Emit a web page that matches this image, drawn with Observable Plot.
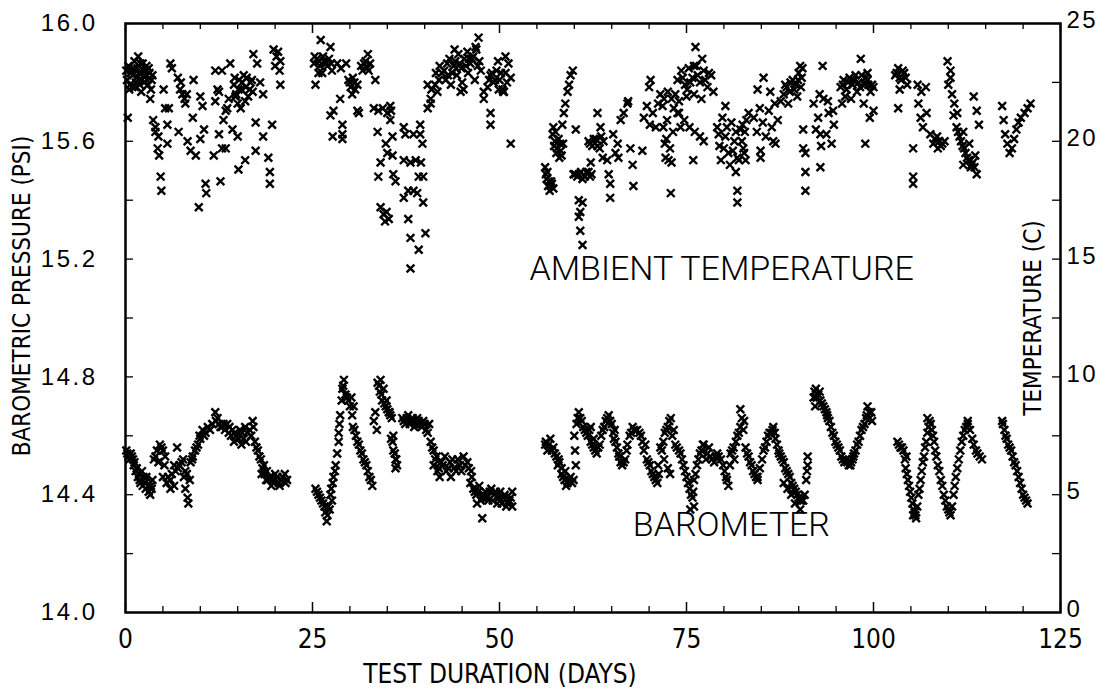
<!DOCTYPE html>
<html><head><meta charset="utf-8">
<script src="https://cdn.jsdelivr.net/npm/d3@7"></script>
<script src="https://cdn.jsdelivr.net/npm/@observablehq/plot@0.6"></script>
<style>body{margin:0;background:#fff} #chart svg{display:block}</style>
</head><body><div id="chart"></div>
<script>
// Ambient temperature readings: [test day, temperature (C)]
const temperature = [
[0.2,22.6],[0.4,23.2],[0.6,22.4],[0.8,23.0],[1.0,22.8],[1.2,23.4],[1.4,22.5],[1.6,23.1],[1.8,22.9],[2.0,23.3],[2.2,22.6],[2.4,23.0],[2.6,22.8],[2.8,23.2],[3.0,22.4],[3.2,22.9],[0.5,22.2],[1.3,22.3],[2.1,22.1],[1.7,23.6],[3.4,22.2],[3.6,22.8],
[0.1,23.0],[0.7,22.9],[0.9,22.3],[1.1,23.1],[1.5,22.7],[1.9,22.4],[2.3,23.3],[2.5,22.5],[2.7,23.0],[2.9,22.6],[3.1,23.1],[3.5,22.6],
[0.3,21.0],[3.3,21.8],[3.7,20.9],[4.0,20.4],[4.3,19.7],[4.5,19.4],[4.7,18.5],[4.8,17.9],[4.0,20.6],[4.4,20.2],
[5.1,22.2],[5.3,21.4],[5.8,21.4],[5.6,20.7],[5.6,19.9],[6.0,23.3],[6.2,23.1],
[7.0,22.7],[7.3,22.2],[7.6,22.0],[7.9,21.8],[8.2,22.0],[7.4,22.5],[8.0,21.6],[7.1,20.4],
[8.3,20.0],[8.7,19.6],[9.4,19.4],[9.8,17.2],[9.1,22.6],[9.0,21.0],[10.0,21.9],[10.3,21.5],
[10.0,20.1],[10.5,20.5],[10.7,18.2],[10.8,17.8],[11.8,19.4],[12.0,21.7],[12.3,22.2],[12.5,22.1],
[12.0,23.0],[12.9,23.0],[12.5,20.3],[12.9,19.7],[13.4,19.7],[13.1,20.9],[13.4,21.3],[13.6,21.4],
[12.7,18.3],[13.8,21.8],[14.0,23.3],[14.3,20.5],[15.0,20.2],[15.1,18.8],[16.0,19.2],
[14.5,22.4],[14.8,22.0],[15.2,22.6],[15.5,22.2],[15.8,22.8],[16.1,22.3],[16.4,21.9],[16.7,22.5],[17.0,22.1],[15.0,21.6],[16.0,21.7],
[14.6,22.7],[15.1,22.2],[15.6,22.5],[16.2,22.7],[16.6,22.2],[16.9,22.6],[14.7,21.9],
[15.4,21.4],[17.1,23.7],[17.4,20.8],[17.4,19.6],[17.6,23.3],[18.0,22.5],[18.4,22.0],[18.4,20.2],
[19.1,19.3],[19.3,18.7],[19.3,18.2],[19.6,20.7],[19.8,23.9],[20.2,23.6],[20.7,23.4],[20.0,23.2],[20.4,23.8],[20.6,23.0],[20.7,22.4],
[25.4,22.4],[26.1,24.3],[25.2,23.3],[25.6,23.5],[26.0,23.2],[26.4,23.6],[26.8,23.3],[27.2,23.5],[27.6,23.0],[25.8,22.9],[27.4,24.0],
[25.3,23.6],[25.9,23.4],[26.3,22.9],[26.6,23.4],[27.0,23.2],[27.5,23.3],
[27.4,21.1],[27.8,21.3],[27.7,20.2],[29.0,20.7],[29.0,20.3],[29.0,20.1],[28.3,23.3],[28.8,23.1],[29.5,23.3],[28.7,21.8],
[29.8,22.6],[30.1,22.3],[30.4,22.7],[30.7,22.2],[31.0,22.4],[30.3,22.0],[31.0,21.3],[31.2,21.2],[30.0,22.5],[30.6,22.5],
[31.5,23.2],[31.9,23.3],[32.3,23.1],[32.7,23.3],[32.4,23.7],[33.4,22.6],[31.7,23.0],[32.1,23.4],[32.5,23.0],
[33.2,21.4],[33.8,21.3],[34.4,21.4],[35.0,21.2],[35.5,21.3],
[33.7,20.4],[34.8,19.9],[34.1,19.1],[33.8,18.5],[35.0,19.5],[35.7,19.4],[35.8,18.6],[36.1,18.3],[35.7,20.2],[35.4,20.9],[35.4,21.5],
[34.1,17.2],[34.5,16.9],[34.9,17.0],[35.2,16.7],[34.7,16.6],
[37.2,20.6],[37.4,20.3],[38.5,20.3],[39.4,20.7],[39.4,20.3],[39.7,19.9],[37.2,19.2],[38.1,19.1],[38.8,19.2],[39.5,19.1],
[37.2,17.6],[37.8,17.9],[38.5,17.9],[39.0,17.8],[37.8,16.7],[38.1,15.9],[38.1,14.6],[39.2,15.4],[39.8,17.4],[40.1,16.1],[39.2,18.5],[39.8,18.5],
[40.4,21.4],[40.8,21.8],[40.8,21.6],[40.4,22.4],[40.9,22.2],[41.4,22.4],[41.7,22.1],[41.5,22.9],[42.0,23.2],[42.6,23.0],[43.0,23.3],
[42.8,22.6],[43.3,23.5],[43.7,22.9],[44.1,23.4],[44.5,23.7],[44.9,23.1],[45.3,23.5],[45.7,23.8],[46.1,23.3],[46.5,23.6],[46.9,23.9],[47.3,23.4],
[43.5,22.4],[44.3,22.8],[45.0,22.5],[45.8,22.9],[46.7,22.6],[47.5,23.0],[44.0,23.9],[47.2,24.4],[46.8,24.0],[44.8,22.1],[45.2,22.2],
[41.9,22.6],[42.3,22.9],[43.1,22.8],[43.9,23.2],[44.7,23.3],[45.5,23.2],[46.3,23.5],[47.1,23.2],[45.9,23.5],[44.2,23.1],
[47.9,22.1],[47.9,21.8],[48.8,21.2],[48.8,20.7],
[48.4,22.3],[48.8,22.8],[49.2,22.5],[49.6,23.0],[50.0,22.6],[50.4,22.2],[50.8,22.9],[51.2,23.3],[51.5,22.7],[49.8,23.4],[50.6,22.1],[50.8,23.6],[50.5,22.1],[51.5,19.9],
[48.6,22.6],[49.0,22.9],[49.4,22.6],[50.2,22.9],[51.0,22.5],[49.9,22.2],
[56.1,18.9],[56.3,18.4],[56.5,18.1],[56.7,17.9],[56.9,18.3],[57.2,18.0],[56.4,18.7],[56.2,18.6],[56.6,18.3],[57.0,18.2],
[57.1,20.3],[57.3,19.8],[57.6,19.5],[57.9,20.1],[58.2,19.6],[58.5,19.9],[57.5,20.4],[58.0,19.3],[57.4,20.0],[57.7,19.7],[58.1,19.9],[58.3,19.4],
[57.2,20.6],[58.4,20.7],[58.6,21.2],[58.8,21.6],[59.1,22.1],[59.3,22.4],[59.5,22.8],[59.8,23.0],[60.2,20.5],
[59.9,18.6],[60.4,18.5],[60.9,18.7],[61.4,18.5],[61.9,18.7],[62.3,18.6],[60.1,18.6],[60.6,18.6],[61.1,18.4],[61.6,18.7],[62.1,18.5],
[60.6,17.5],[61.1,17.4],[60.8,17.0],[60.6,16.8],[60.8,16.2],[61.1,15.6],[62.2,19.1],
[61.9,20.0],[62.4,19.8],[62.9,20.1],[63.4,19.7],[63.9,20.0],[63.1,21.2],[63.5,20.6],[62.1,19.9],[62.6,20.1],[63.1,19.8],[63.6,20.2],
[63.8,19.3],[64.4,19.2],[64.6,18.6],[64.8,18.2],[64.8,17.6],
[65.2,20.3],[65.8,19.9],[65.9,19.3],[65.5,19.5],[66.2,20.9],[66.6,21.2],[67.1,21.6],[67.2,21.7],
[67.5,19.7],[67.8,19.0],[67.9,18.1],[69.1,19.6],
[69.3,21.0],[69.7,21.5],[70.1,20.7],[70.5,21.2],[70.9,20.6],[71.2,21.6],[70.2,22.6],[70.0,22.3],
[71.5,22.0],[72.0,21.8],[72.5,22.1],[73.0,21.8],[73.5,22.0],[74.0,21.7],
[71.9,20.6],[72.3,20.1],[72.8,19.7],[72.2,19.3],[72.6,19.2],[72.9,17.8],
[71.8,21.5],[72.4,20.9],[73.2,20.4],[73.8,21.2],[74.2,20.6],[72.1,19.9],[73.0,19.1],
[73.8,22.6],[74.3,23.0],[74.8,22.4],[75.3,23.1],[75.8,22.7],[76.3,23.2],[76.8,22.5],[77.3,23.0],[77.8,22.3],[78.3,22.8],[78.6,22.1],[75.0,21.9],[76.0,22.0],[77.0,21.8],
[74.5,22.7],[75.5,22.5],[76.5,22.8],[77.5,22.6],[78.0,22.9],[76.0,23.2],[75.1,22.2],
[76.2,24.0],[77.1,23.5],
[73.3,21.4],[74.0,21.2],[74.7,20.9],[75.4,20.6],[76.1,20.4],[76.8,20.2],[77.3,20.0],[75.9,19.2],
[79.1,20.6],[79.4,19.8],[79.8,21.0],[80.2,20.2],[80.6,19.5],[81.0,20.8],[81.4,20.0],[81.8,19.3],[82.2,20.5],[82.6,19.7],[83.0,20.9],[79.6,19.2],[80.8,19.0],[82.0,19.2],
[79.3,20.3],[80.0,19.7],[80.4,20.6],[81.2,19.6],[81.6,20.4],[82.4,20.0],[82.8,20.4],
[80.2,21.5],[81.6,18.7],[81.8,17.9],[81.8,17.4],[82.5,20.7],[83.3,21.2],[82.7,19.5],[82.9,19.2],
[84.0,21.0],[84.4,20.4],[84.8,21.4],[85.2,20.8],[85.6,20.2],[86.0,21.3],[86.4,20.6],[86.8,21.6],[87.2,20.9],
[85.3,22.7],[84.5,22.2],[86.2,22.1],[84.9,19.6],[84.9,19.3],[86.6,20.0],[86.9,19.9],
[87.6,21.7],[88.0,22.0],[88.4,22.3],[88.8,22.1],[89.2,22.6],[89.6,22.4],[90.0,22.9],[90.4,22.7],[88.6,21.6],[89.8,21.9],
[88.2,22.4],[88.9,22.5],[89.4,22.2],[89.9,22.6],[90.3,22.3],
[90.2,23.2],[90.5,23.1],[90.6,20.5],[90.6,19.7],[90.9,19.5],[90.9,18.7],[90.9,17.9],
[92.0,21.6],[92.3,20.5],[92.6,21.0],[93.0,19.8],[93.3,21.8],[93.7,20.3],[94.0,21.2],[94.4,19.9],[94.7,20.7],[92.8,22.0],
[92.9,20.3],[92.9,18.9],[93.2,23.2],[93.9,21.7],[94.6,21.3],
[95.6,22.3],[96.0,22.6],[96.4,22.2],[96.8,22.7],[97.2,22.4],[97.6,22.8],[98.0,22.5],[98.4,22.8],[98.8,22.4],[99.2,22.6],[99.6,22.1],[100.0,22.3],[96.2,21.9],[97.0,21.8],[95.8,21.6],
[95.9,22.4],[96.6,22.5],[97.4,22.6],[98.2,22.3],[99.0,22.7],[99.8,22.4],[97.8,22.1],
[98.3,23.5],[99.2,22.9],[99.3,22.4],[98.7,21.6],[99.5,21.0],[100.0,21.3],[98.9,19.9],
[102.9,22.8],[103.3,23.1],[103.7,22.6],[104.1,22.9],[104.5,22.4],[103.5,22.2],[103.3,21.4],
[103.1,22.9],[103.5,22.7],[103.9,23.0],[104.3,22.7],
[105.3,19.7],[105.3,18.5],[105.3,18.2],
[105.9,22.4],[106.4,22.1],[107.0,22.3],[106.0,21.6],[106.3,21.0],[106.6,20.6],[107.1,21.2],
[107.6,20.3],[108.0,19.9],[108.5,20.2],[109.0,19.8],[109.5,20.0],[108.6,19.7],[108.2,20.1],[108.8,20.0],[109.2,19.9],
[109.9,23.4],[110.3,23.0],[110.3,22.7],[110.0,22.4],[110.5,22.0],[110.8,21.6],[111.2,21.2],
[110.7,21.1],[111.1,20.6],[111.5,20.2],[111.9,19.8],[112.3,19.5],[112.7,19.2],[113.1,19.0],[113.5,18.9],[112.0,20.4],[112.8,19.9],[113.6,19.4],
[111.3,20.4],[111.7,20.0],[112.1,19.7],[112.5,19.3],[112.9,19.2],[113.3,19.1],
[113.4,21.9],[113.8,21.3],[114.1,20.7],[112.0,19.0],[113.0,18.9],[113.8,18.6],
[117.2,21.5],[117.4,20.9],[117.6,20.3],[117.9,19.9],[118.2,19.5],[118.5,19.7],[118.8,20.1],[119.1,20.5],[119.4,20.8],[119.7,21.0],[120.2,21.2],[120.6,21.4],[121.0,21.6]
];

// Barometric pressure readings: [test day, pressure (PSI)]
const barometer = [
[0.1,14.55],[0.4,14.53],[0.7,14.54],[1.0,14.52],[1.2,14.51],[1.5,14.49],[1.8,14.47],[2.2,14.48],[2.4,14.46],
[0.25,14.54],[0.55,14.52],[0.85,14.53],[1.1,14.50],[1.35,14.48],[1.65,14.46],[2.0,14.44],[2.3,14.43],[2.7,14.42],[3.1,14.41],[3.4,14.43],[3.6,14.45],
[1.9,14.45],[2.6,14.44],[3.0,14.43],[3.5,14.42],[2.8,14.46],[3.3,14.40],
[3.8,14.52],[4.2,14.55],[4.6,14.57],[5.0,14.55],[4.4,14.51],[5.3,14.53],[4.0,14.53],[4.8,14.56],[5.2,14.50],[5.7,14.46],
[5.0,14.46],[5.5,14.44],[6.0,14.45],[6.5,14.43],[6.0,14.42],[6.9,14.56],[6.2,14.47],[6.7,14.48],[7.2,14.50],[7.7,14.52],[8.2,14.47],
[6.5,14.50],[7.0,14.49],[7.5,14.51],[8.0,14.48],[7.8,14.46],[8.6,14.45],[8.0,14.42],[8.3,14.39],[8.4,14.37],
[8.7,14.51],[9.0,14.53],[9.3,14.55],[9.7,14.57],[10.0,14.59],[9.9,14.60],[10.3,14.62],[10.7,14.61],[11.0,14.63],[8.9,14.52],[9.5,14.56],[10.5,14.60],[11.3,14.62],[11.6,14.64],
[12.0,14.68],[12.1,14.65],[12.5,14.64],[12.9,14.63],[13.3,14.62],[13.6,14.64],[12.3,14.66],[12.7,14.63],[13.1,14.64],
[13.8,14.61],[14.3,14.62],[14.8,14.60],[15.3,14.62],[15.8,14.59],[16.3,14.61],[16.8,14.60],[17.1,14.63],[14.5,14.58],[15.5,14.57],[16.0,14.63],[17.0,14.65],
[13.9,14.63],[14.1,14.60],[14.6,14.61],[15.1,14.59],[15.6,14.61],[16.1,14.58],[16.6,14.62],
[17.3,14.58],[17.7,14.55],[18.1,14.52],[18.5,14.50],[18.9,14.48],[17.5,14.56],[17.9,14.53],[18.3,14.49],[18.6,14.47],[19.0,14.45],
[18.2,14.47],[18.8,14.45],[19.3,14.46],[19.8,14.44],[20.3,14.46],[20.8,14.45],[21.3,14.47],[21.6,14.45],[19.5,14.43],[20.6,14.43],
[19.6,14.45],[20.0,14.47],[20.5,14.44],[21.0,14.46],[21.4,14.44],
[25.4,14.42],[25.8,14.40],[26.2,14.38],[26.6,14.36],[27.0,14.33],[27.3,14.35],[27.6,14.38],[26.9,14.31],
[25.6,14.41],[26.0,14.39],[26.4,14.37],[26.7,14.34],[27.1,14.36],[27.4,14.40],[27.7,14.44],[28.0,14.48],
[27.5,14.42],[27.8,14.46],[28.1,14.50],[28.5,14.58],[28.5,14.61],[28.7,14.67],[29.2,14.79],[28.3,14.54],[28.6,14.64],[28.9,14.72],[29.1,14.77],
[29.0,14.76],[29.4,14.74],[29.8,14.72],[30.2,14.73],[30.5,14.70],[29.6,14.73],[30.0,14.70],[30.3,14.67],
[30.4,14.63],[30.8,14.60],[31.2,14.57],[31.6,14.54],[32.0,14.51],[32.4,14.48],[32.8,14.45],[33.0,14.43],
[30.6,14.62],[31.0,14.58],[31.4,14.55],[31.8,14.52],[32.2,14.50],[32.6,14.46],
[33.2,14.65],[33.6,14.62],[33.7,14.78],[34.0,14.75],[34.3,14.72],[34.6,14.71],[35.0,14.69],[35.4,14.67],[33.4,14.68],[33.9,14.77],[34.2,14.74],[34.8,14.70],[35.2,14.68],
[35.7,14.58],[36.0,14.54],[36.3,14.50],[34.1,14.79],[34.5,14.76],[34.9,14.72],[35.3,14.68],[35.6,14.66],
[35.5,14.59],[35.8,14.55],[36.1,14.52],[36.1,14.49],[35.8,14.60],[36.2,14.52],
[37.0,14.66],[37.4,14.64],[37.8,14.67],[38.2,14.65],[38.6,14.63],[39.0,14.66],[39.4,14.64],[39.8,14.65],[40.2,14.62],[40.6,14.64],
[37.2,14.65],[37.6,14.66],[38.0,14.64],[38.4,14.66],[38.8,14.64],[39.2,14.65],[39.6,14.63],[40.0,14.64],
[40.4,14.61],[40.8,14.58],[41.2,14.55],[41.6,14.53],[41.0,14.56],[41.4,14.52],
[41.2,14.50],[41.7,14.48],[42.2,14.51],[42.7,14.53],[43.2,14.49],[43.7,14.52],[44.2,14.48],[44.7,14.50],[45.2,14.53],[45.7,14.51],[46.2,14.48],[42.0,14.46],[43.5,14.46],
[41.9,14.49],[42.4,14.50],[42.9,14.48],[43.4,14.51],[43.9,14.49],[44.4,14.52],[44.9,14.48],[45.4,14.50],[45.9,14.49],[46.3,14.46],
[46.1,14.44],[46.5,14.42],[46.9,14.40],[47.3,14.43],[47.7,14.39],[48.1,14.41],[48.5,14.38],[48.9,14.42],[49.3,14.40],[49.7,14.37],[50.1,14.41],[50.5,14.39],[50.9,14.36],[51.3,14.38],[51.7,14.36],[47.0,14.37],
[46.7,14.41],[47.1,14.41],[47.5,14.38],[47.9,14.40],[48.3,14.39],[48.7,14.41],[49.1,14.38],[49.5,14.41],[49.9,14.39],[50.3,14.37],[50.7,14.40],[51.1,14.37],[51.5,14.39],
[47.7,14.32],[51.7,14.41],
[56.1,14.57],[56.4,14.55],[56.8,14.59],[57.2,14.56],[57.6,14.53],[58.0,14.51],[57.8,14.50],[58.3,14.49],[58.8,14.48],
[56.2,14.58],[56.6,14.57],[57.0,14.55],[57.4,14.54],[57.9,14.52],[58.5,14.46],[59.3,14.45],[59.7,14.44],
[58.3,14.47],[58.7,14.45],[59.1,14.44],[59.5,14.46],[59.9,14.45],[58.9,14.43],[60.2,14.50],
[60.0,14.60],[60.3,14.64],[60.6,14.68],[61.0,14.65],[61.4,14.62],[61.8,14.60],[62.2,14.63],[62.6,14.59],
[60.1,14.55],[60.45,14.66],[60.8,14.66],[61.2,14.63],[61.6,14.61],[62.0,14.62],[62.4,14.57],[62.8,14.55],
[62.2,14.58],[62.6,14.56],[63.0,14.54],[63.4,14.57],[63.2,14.56],[63.6,14.60],[64.0,14.63],[64.4,14.66],[64.8,14.65],
[63.8,14.62],[64.2,14.65],[64.6,14.67],[65.0,14.64],[65.4,14.62],[65.2,14.61],[65.5,14.58],[65.9,14.54],[66.2,14.51],[66.6,14.51],
[65.3,14.59],[65.7,14.56],[66.0,14.53],[66.4,14.50],[66.8,14.52],[67.0,14.55],[67.6,14.61],[68.0,14.62],[68.4,14.62],[68.7,14.61],
[67.1,14.57],[67.4,14.60],[67.8,14.63],[68.9,14.60],[69.5,14.57],[69.1,14.58],
[69.3,14.55],[69.7,14.52],[70.1,14.50],[70.5,14.47],[70.9,14.45],[71.3,14.47],[71.1,14.44],[69.9,14.51],[70.3,14.48],[70.7,14.46],
[71.9,14.58],[72.3,14.62],[72.7,14.65],[73.1,14.60],[73.5,14.57],[71.2,14.50],[71.7,14.55],[72.1,14.61],[72.5,14.63],
[71.5,14.56],[72.0,14.52],[72.5,14.49],[72.8,14.47],[72.9,14.66],[73.3,14.62],
[74.2,14.54],[74.6,14.50],[75.0,14.46],[75.4,14.42],[75.8,14.39],[76.0,14.36],[75.5,14.35],
[73.7,14.56],[74.0,14.55],[74.4,14.52],[74.8,14.48],[75.2,14.44],[75.6,14.40],[75.9,14.41],
[76.0,14.45],[76.4,14.50],[76.8,14.54],[77.2,14.57],[77.6,14.52],[77.3,14.57],[78.0,14.56],[76.2,14.47],[76.6,14.52],[77.0,14.55],[77.8,14.54],
[78.2,14.53],[78.7,14.51],[79.1,14.54],[79.9,14.50],[80.3,14.46],[80.6,14.43],[78.4,14.52],[78.9,14.53],[79.3,14.53],[79.6,14.52],[80.1,14.48],[80.4,14.45],
[80.9,14.54],[81.4,14.52],[81.3,14.56],[81.8,14.60],[82.2,14.63],[82.7,14.65],[82.2,14.69],[80.8,14.50],[81.1,14.55],[81.6,14.58],[82.0,14.61],[82.4,14.66],[82.6,14.62],
[82.9,14.56],[83.3,14.53],[83.7,14.50],[84.1,14.47],[84.5,14.45],[84.5,14.46],[83.1,14.54],[83.5,14.51],[83.9,14.48],[84.3,14.46],[84.8,14.49],
[85.3,14.55],[85.7,14.58],[86.1,14.61],[86.5,14.62],[86.9,14.59],[87.3,14.55],[86.6,14.63],[85.1,14.52],[85.5,14.56],[85.9,14.60],[86.3,14.61],[86.8,14.61],[87.1,14.57],
[87.6,14.53],[88.0,14.51],[88.4,14.48],[88.8,14.46],[89.2,14.43],[89.6,14.41],[90.0,14.39],[90.4,14.38],
[87.4,14.54],[87.8,14.52],[88.2,14.49],[88.6,14.47],[89.0,14.44],[89.4,14.42],[89.8,14.40],[90.2,14.38],
[91.2,14.53],[91.2,14.50],[88.5,14.42],[89.0,14.40],[89.5,14.37],[90.2,14.35],[90.6,14.38],[88.0,14.44],[90.8,14.40],[91.0,14.45],[91.1,14.48],
[92.0,14.73],[92.3,14.76],[92.6,14.74],[92.9,14.72],[93.3,14.70],[93.7,14.68],[92.2,14.70],
[92.1,14.75],[92.4,14.73],[92.8,14.75],[93.1,14.71],[93.5,14.69],[93.8,14.67],
[93.9,14.66],[94.3,14.63],[94.7,14.60],[95.1,14.57],[95.5,14.55],[95.9,14.52],
[94.1,14.65],[94.5,14.61],[94.9,14.58],[95.3,14.56],[95.7,14.53],[96.1,14.51],
[96.5,14.51],[96.9,14.50],[97.2,14.52],[96.3,14.52],[96.7,14.50],[97.0,14.51],
[97.4,14.54],[97.8,14.57],[98.2,14.60],[98.6,14.63],[99.0,14.66],[99.4,14.68],[99.8,14.65],[99.2,14.70],
[97.3,14.53],[97.6,14.55],[98.0,14.58],[98.4,14.62],[98.8,14.64],[99.1,14.67],[99.5,14.66],[99.7,14.68],
[103.2,14.58],[103.6,14.56],[104.0,14.55],[104.4,14.53],[103.4,14.57],[103.8,14.56],[104.2,14.52],
[104.3,14.49],[104.6,14.45],[104.9,14.41],[105.2,14.37],[105.5,14.34],[105.7,14.32],[105.3,14.33],
[104.45,14.47],[104.75,14.43],[105.05,14.39],[105.35,14.35],[105.6,14.33],[105.85,14.36],
[106.0,14.40],[106.3,14.45],[106.6,14.51],[106.9,14.56],[107.2,14.61],[107.5,14.65],[107.8,14.62],[107.2,14.66],
[106.15,14.42],[106.45,14.48],[106.75,14.53],[107.05,14.58],[107.35,14.63],[107.65,14.64],
[108.1,14.58],[108.4,14.53],[108.8,14.48],[109.2,14.43],[109.6,14.38],[110.0,14.35],[110.3,14.33],
[107.95,14.60],[108.25,14.55],[108.6,14.50],[109.0,14.45],[109.4,14.40],[109.8,14.36],[110.15,14.34],
[110.7,14.40],[111.0,14.46],[111.4,14.52],[111.8,14.58],[112.2,14.62],[112.6,14.64],[112.6,14.65],
[110.5,14.36],[110.85,14.43],[111.2,14.49],[111.6,14.55],[112.0,14.60],[112.4,14.63],
[113.4,14.57],[113.9,14.54],[114.5,14.52],[112.9,14.62],[113.2,14.59],[113.7,14.55],[114.2,14.53],
[117.2,14.65],[117.5,14.62],[117.8,14.59],[118.2,14.56],[118.6,14.53],[119.0,14.50],[119.4,14.46],[119.8,14.42],[120.2,14.39],[120.6,14.37],
[117.3,14.64],[117.65,14.60],[118.0,14.57],[118.4,14.55],[118.8,14.51],[119.2,14.48],[119.6,14.44],[120.0,14.40],[120.4,14.38]
];

// Axis ticks and labels
const xLabelTicks = [0, 25, 50, 75, 100, 125];
const xMinorTicks = d3.range(0, 126, 5);
const yTicks = [14.0, 14.4, 14.8, 15.2, 15.6, 16.0];
const yMinorTicks = d3.range(14.2, 16.0, 0.2);
const seriesLabels = [
  {day: 79.7, psi: 15.165, text: "AMBIENT TEMPERATURE"},
  {day: 81.0, psi: 14.297, text: "BAROMETER"}
];
const psiToC = p => Math.round((p - 14) * 12.5);
const cToPsi = c => 14 + c / 12.5;

const frameH = 698 - 23 - 86, frameW = 1111 - 125 - 51;
const font = "'Liberation Sans', Arial, sans-serif";
const narrow = "'Liberation Sans Narrow', 'DejaVu Sans Condensed', sans-serif";

const chart = Plot.plot({
  width: 1111, height: 698,
  marginLeft: 125, marginRight: 51, marginTop: 23, marginBottom: 86,
  x: {domain: [0, 125]},
  y: {domain: [14, 16]},
  style: {fontFamily: font, background: "white", color: "black"},
  marks: [
    Plot.dot(temperature, {x: d => d[0], y: d => cToPsi(d[1]), symbol: "times", r: 3.6, stroke: "black", strokeWidth: 2.4}),
    Plot.dot(barometer, {x: d => d[0], y: d => d[1], symbol: "times", r: 3.6, stroke: "black", strokeWidth: 2.4}),
    // inward ticks
    Plot.tickX(xMinorTicks.filter(d => d % 25), {x: d => d, insetTop: frameH - 6, stroke: "black", strokeWidth: 1.3}),
    Plot.tickX(xLabelTicks, {x: d => d, insetTop: frameH - 10, stroke: "black", strokeWidth: 1.5}),
    Plot.tickX(xMinorTicks.filter(d => d % 25), {x: d => d, insetBottom: frameH - 6, stroke: "black", strokeWidth: 1.3}),
    Plot.tickX(xLabelTicks, {x: d => d, insetBottom: frameH - 10, stroke: "black", strokeWidth: 1.5}),
    Plot.tickY(yMinorTicks, {y: d => d, insetRight: frameW - 8, stroke: "black", strokeWidth: 1.3}),
    Plot.tickY(yMinorTicks, {y: d => d, insetLeft: frameW - 8, stroke: "black", strokeWidth: 1.3}),
    Plot.frame({stroke: "black", strokeWidth: 2.5}),
    Plot.axisX({ticks: xLabelTicks, tickSize: 0, tickPadding: 17, fontSize: 26, label: null, fontFamily: narrow}),
    Plot.axisY({anchor: "left", ticks: yTicks, tickSize: 0, tickPadding: 28, fontSize: 24, label: null, tickFormat: d => d.toFixed(1)}),
    Plot.axisY({anchor: "right", ticks: yTicks, tickSize: 0, tickPadding: 6, fontSize: 24, label: null, tickFormat: psiToC, dy: -3}),
    Plot.text(["BAROMETRIC PRESSURE (PSI)"], {frameAnchor: "left", textAnchor: "middle", dx: -103, dy: -22, rotate: -90, fontSize: 24, fontFamily: narrow}),
    Plot.text(["TEMPERATURE (C)"], {frameAnchor: "right", textAnchor: "middle", dx: -27, dy: 0, rotate: -90, fontSize: 24, fontFamily: narrow}),
    Plot.text(["TEST DURATION (DAYS)"], {frameAnchor: "bottom", dx: -93, dy: 70, fontSize: 26, fontFamily: narrow}),
    Plot.text(seriesLabels, {x: "day", y: "psi", text: "text", fontSize: 34, fontWeight: 300, fontFamily: "Roboto, sans-serif"})
  ]
});
// slightly widen the spacing of the vertical axes' numerals, as in the original typewritten labels
d3.select(chart).selectAll("g[aria-label='y-axis tick label'] text").attr("letter-spacing", 2.5);
document.getElementById("chart").append(chart);
</script>
</body></html>
